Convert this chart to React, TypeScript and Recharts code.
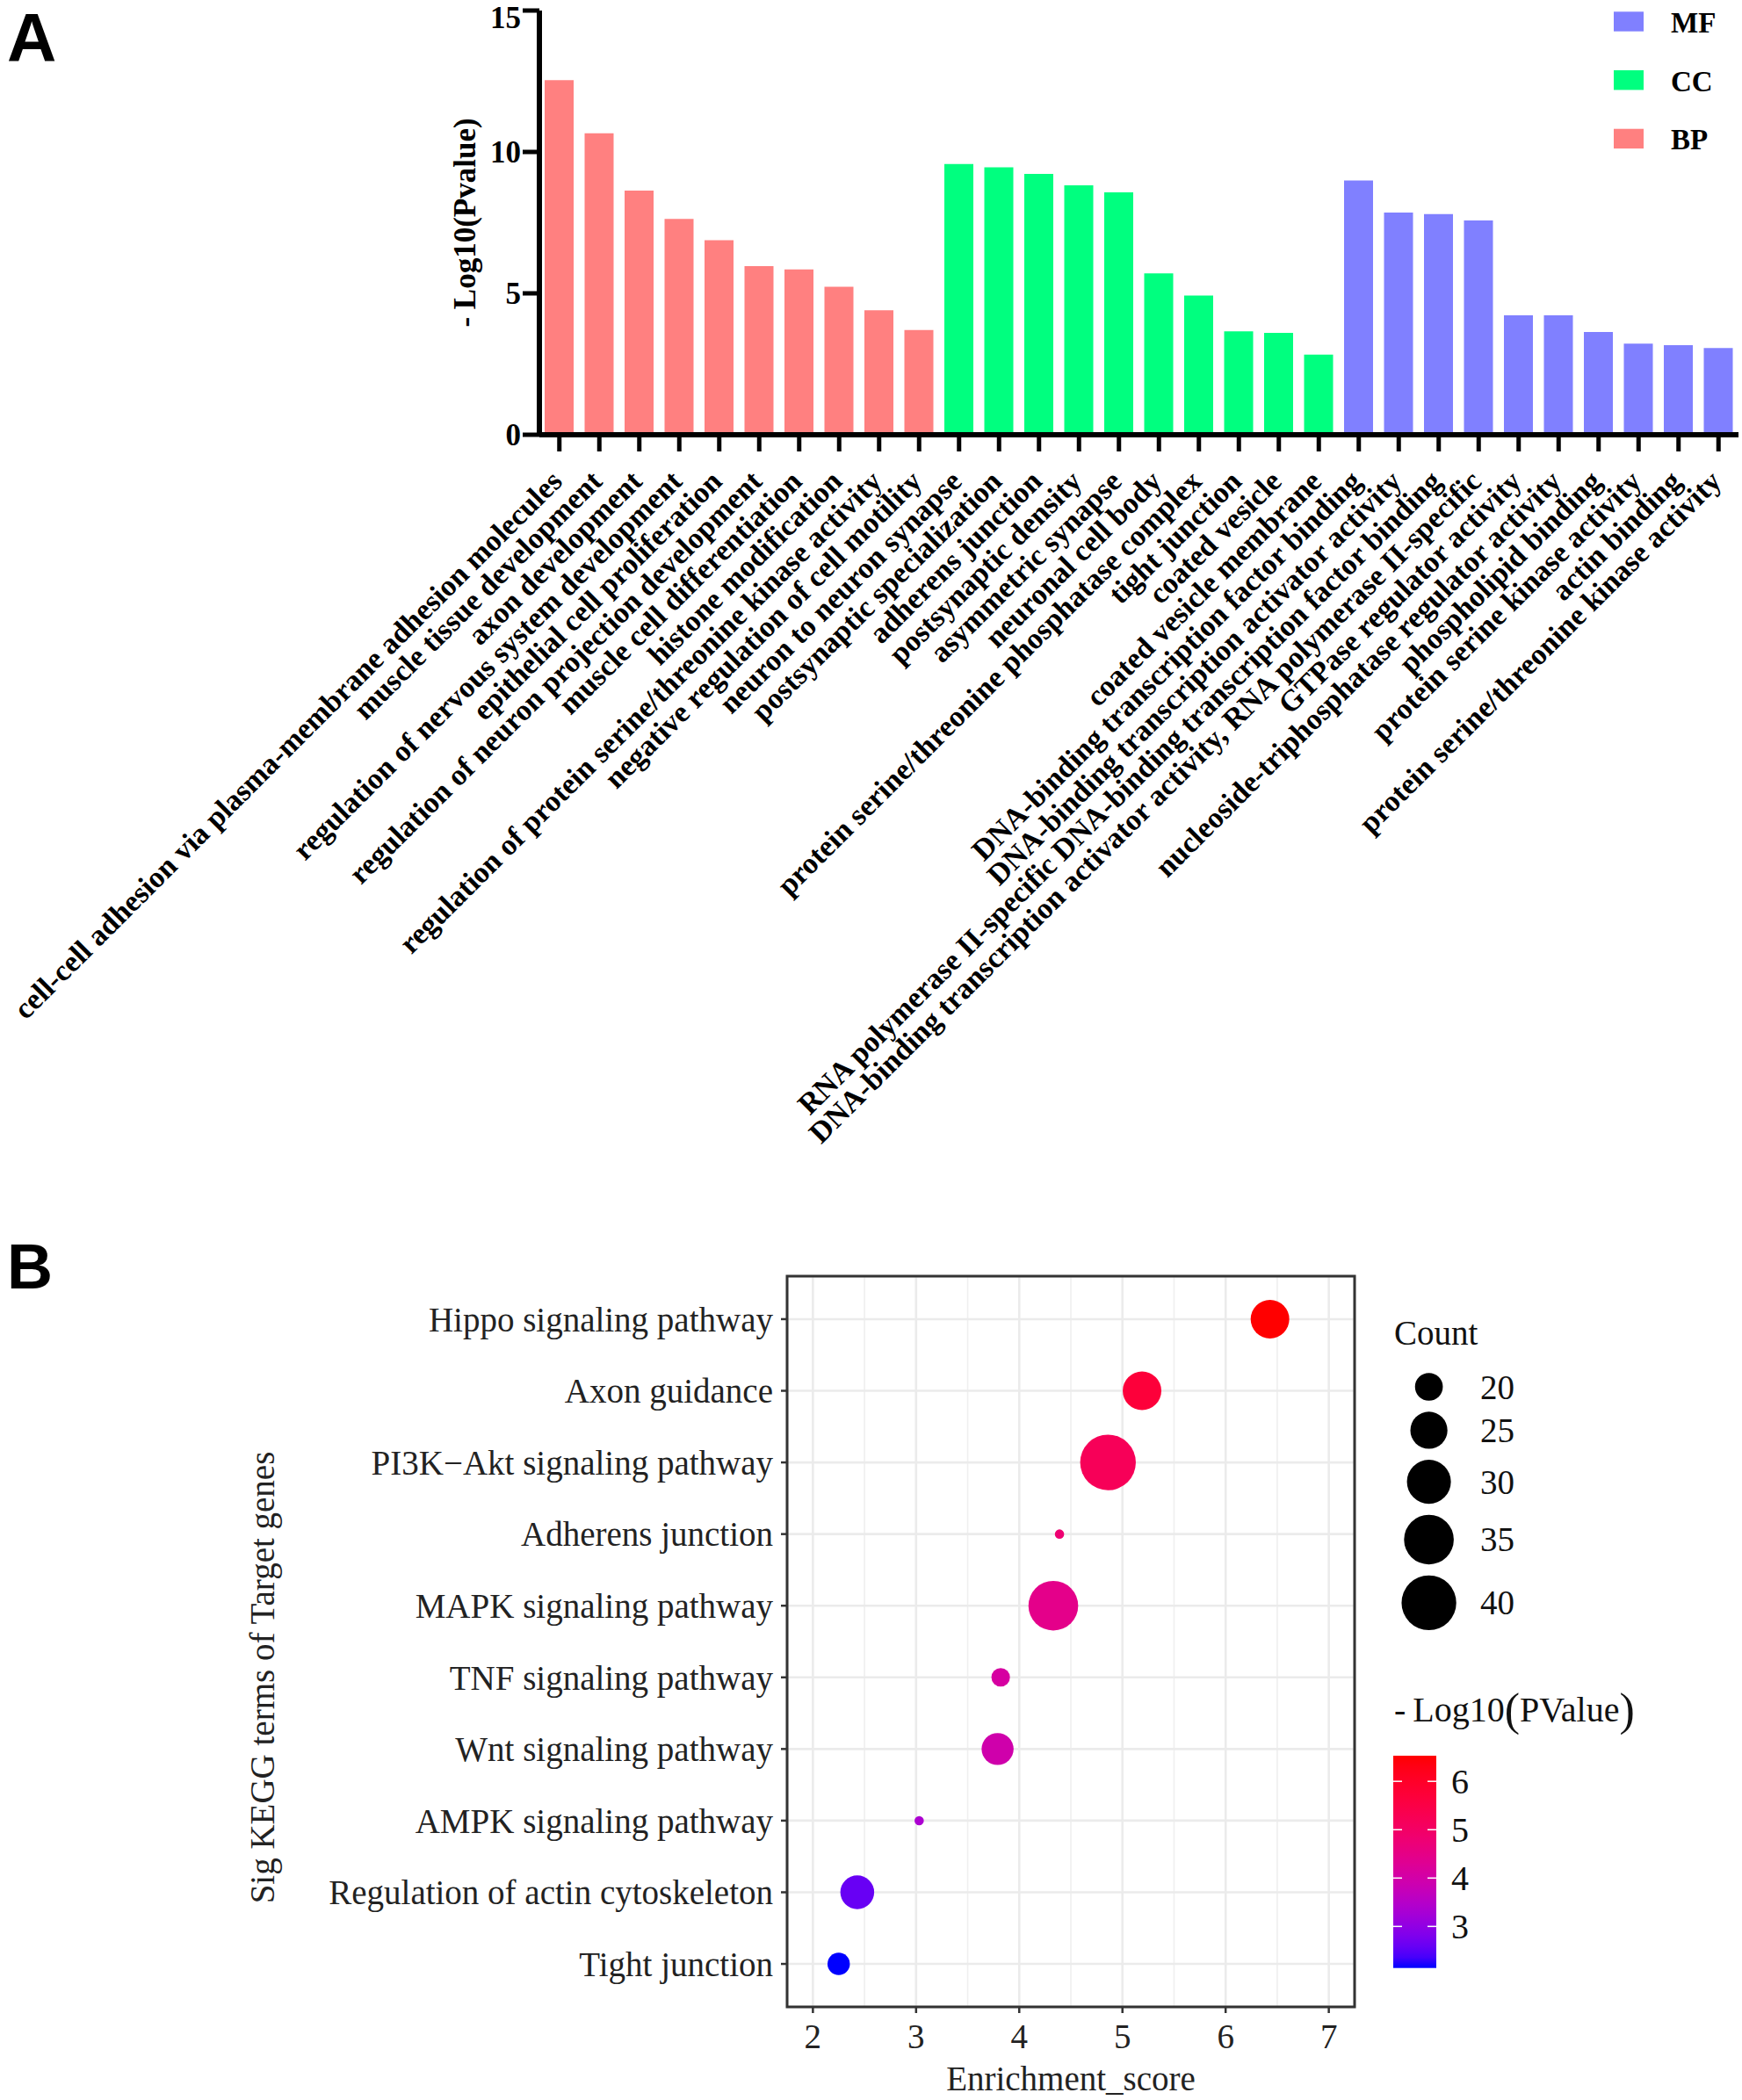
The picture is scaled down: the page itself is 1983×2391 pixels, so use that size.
import React from "react";
import {
  BarChart,
  Bar,
  XAxis,
  YAxis,
  Cell,
  Label,
  ScatterChart,
  Scatter,
  CartesianGrid,
  ReferenceArea,
} from "recharts";

const SERIF = '"Liberation Serif", "Times New Roman", Times, serif';
const SANS = '"Liberation Sans", Arial, Helvetica, sans-serif';

// ---------- panel A: GO terms ----------
const BP_TERMS = [
  "cell-cell adhesion via plasma-membrane adhesion molecules",
  "muscle tissue development",
  "axon development",
  "regulation of nervous system development",
  "epithelial cell proliferation",
  "regulation of neuron projection development",
  "muscle cell differentiation",
  "histone modification",
  "regulation of protein serine/threonine kinase activity",
  "negative regulation of cell motility",
];
const BP_VALUES = [12.54, 10.66, 8.63, 7.63, 6.88, 5.96, 5.85, 5.23, 4.4, 3.7];

const CC_TERMS = [
  "neuron to neuron synapse",
  "postsynaptic specialization",
  "adherens junction",
  "postsynaptic density",
  "asymmetric synapse",
  "neuronal cell body",
  "protein serine/threonine phosphatase complex",
  "tight junction",
  "coated vesicle",
  "coated vesicle membrane",
];
const CC_VALUES = [9.57, 9.46, 9.22, 8.82, 8.57, 5.71, 4.92, 3.66, 3.6, 2.83];

const MF_TERMS = [
  "DNA-binding transcription factor binding",
  "DNA-binding transcription activator activity",
  "RNA polymerase II-specific DNA-binding transcription factor binding",
  "DNA-binding transcription activator activity, RNA polymerase II-specific",
  "GTPase regulator activity",
  "nucleoside-triphosphatase regulator activity",
  "phospholipid binding",
  "protein serine kinase activity",
  "actin binding",
  "protein serine/threonine kinase activity",
];
const MF_VALUES = [8.99, 7.86, 7.8, 7.58, 4.22, 4.22, 3.63, 3.22, 3.17, 3.07];

const GO_Y_TICKS = [0, 5, 10, 15];
const GO_COLORS: Record<string, string> = { BP: "#FF8080", CC: "#00FF7F", MF: "#8080FF" };
const GO_LEGEND = ["MF", "CC", "BP"];

const goData = [
  ...BP_TERMS.map((term, i) => ({ term, value: BP_VALUES[i], group: "BP" })),
  ...CC_TERMS.map((term, i) => ({ term, value: CC_VALUES[i], group: "CC" })),
  ...MF_TERMS.map((term, i) => ({ term, value: MF_VALUES[i], group: "MF" })),
];

// ---------- panel B: KEGG bubbles ----------
const KEGG_TERMS = [
  "Hippo signaling pathway",
  "Axon guidance",
  "PI3K\u2212Akt signaling pathway",
  "Adherens junction",
  "MAPK signaling pathway",
  "TNF signaling pathway",
  "Wnt signaling pathway",
  "AMPK signaling pathway",
  "Regulation of actin cytoskeleton",
  "Tight junction",
];
const KEGG_SCORE = [6.43, 5.19, 4.86, 4.39, 4.33, 3.82, 3.79, 3.03, 2.43, 2.25];
const KEGG_COUNT = [26, 26, 41, 16, 35, 17, 22, 16, 23, 18];
const KEGG_LOGP = [6.53, 5.7, 5.2, 4.8, 4.45, 4.1, 3.95, 3.35, 2.6, 2.14];

const SCORE_TICKS = [2, 3, 4, 5, 6, 7];
const SCORE_MINOR = [2.5, 3.5, 4.5, 5.5, 6.5];
const TERM_TICKS = [1, 2, 3, 4, 5, 6, 7, 8, 9, 10];
const COUNT_BREAKS = [20, 25, 30, 35, 40];
const LOGP_BREAKS = [3, 4, 5, 6];

const keggData = KEGG_TERMS.map((term, i) => ({
  term,
  y: KEGG_TERMS.length - i,
  score: KEGG_SCORE[i],
  count: KEGG_COUNT[i],
  logp: KEGG_LOGP[i],
}));

// size scale like ggplot scale_size (range 1..6, area based)
const C_MIN = Math.min(...KEGG_COUNT);
const C_MAX = Math.max(...KEGG_COUNT);
const R_MIN = 5.28;
function radius(c: number) {
  const t = Math.max(0, (c - C_MIN) / (C_MAX - C_MIN));
  return R_MIN * (1 + 5 * Math.sqrt(t));
}

// colour scale blue -> red, interpolated in Lab
const P_MIN = Math.min(...KEGG_LOGP);
const P_MAX = Math.max(...KEGG_LOGP);

function toLab(hex: string) {
  const n = parseInt(hex.slice(1), 16);
  const lin = (c: number) => {
    c /= 255;
    return c <= 0.04045 ? c / 12.92 : Math.pow((c + 0.055) / 1.055, 2.4);
  };
  const R = lin((n >> 16) & 255), G = lin((n >> 8) & 255), B = lin(n & 255);
  const X = (0.4124 * R + 0.3576 * G + 0.1805 * B) / 0.95047;
  const Y = 0.2126 * R + 0.7152 * G + 0.0722 * B;
  const Z = (0.0193 * R + 0.1192 * G + 0.9505 * B) / 1.08883;
  const f = (t: number) => (t > 0.008856 ? Math.cbrt(t) : 7.787 * t + 16 / 116);
  const fx = f(X), fy = f(Y), fz = f(Z);
  return [116 * fy - 16, 500 * (fx - fy), 200 * (fy - fz)];
}

function labToHex([L, a, b]: number[]) {
  const fy = (L + 16) / 116, fx = fy + a / 500, fz = fy - b / 200;
  const inv = (t: number) => (t * t * t > 0.008856 ? t * t * t : (t - 16 / 116) / 7.787);
  const X = inv(fx) * 0.95047, Y = inv(fy), Z = inv(fz) * 1.08883;
  const lr = 3.2406 * X - 1.5372 * Y - 0.4986 * Z;
  const lg = -0.9689 * X + 1.8758 * Y + 0.0415 * Z;
  const lb = 0.0557 * X - 0.204 * Y + 1.057 * Z;
  const g = (c: number) => {
    const v = c <= 0.0031308 ? 12.92 * c : 1.055 * Math.pow(Math.max(c, 0), 1 / 2.4) - 0.055;
    return Math.round(Math.min(1, Math.max(0, v)) * 255);
  };
  return "#" + [g(lr), g(lg), g(lb)].map((v) => v.toString(16).padStart(2, "0")).join("");
}

const LOW = toLab("#0000FF");
const HIGH = toLab("#FF0000");
function pColor(v: number) {
  const t = Math.min(1, Math.max(0, (v - P_MIN) / (P_MAX - P_MIN)));
  // the printed figure is a bit more saturated in the middle than plain Lab
  const boost = 1 + 0.25 * 4 * t * (1 - t);
  const lab = LOW.map((l, i) => l + (HIGH[i] - l) * t);
  return labToHex([lab[0], lab[1] * boost, lab[2] * boost]);
}

function GoTick({ x, y, payload }: any) {
  return (
    <g transform={`translate(${x + 5},${y + 36})`}>
      <text
        transform="rotate(-45)"
        textAnchor="end"
        fontFamily={SERIF}
        fontWeight={700}
        fontSize={34}
        fill="#000"
      >
        {payload.value}
      </text>
    </g>
  );
}

function Bubble(p: any) {
  if (p.cx == null || p.cy == null) return null;
  return <circle cx={p.cx} cy={p.cy} r={radius(p.payload.count)} fill={pColor(p.payload.logp)} />;
}

// count legend layout
const countRows = (() => {
  let c = 1579;
  return COUNT_BREAKS.map((v, i) => {
    if (i > 0) c += radius(COUNT_BREAKS[i - 1]) + radius(v) + 12.5;
    return { v, r: radius(v), cy: c };
  });
})();

const BAR_TOP = 1999;
const BAR_BOTTOM = 2240.7;
const barY = (v: number) => BAR_BOTTOM - ((v - P_MIN) / (P_MAX - P_MIN)) * (BAR_BOTTOM - BAR_TOP);

export default function App() {
  return (
    <div style={{ position: "relative", width: 1983, height: 2391, background: "#fff", overflow: "hidden" }}>
      <style>{"body{margin:0}"}</style>

      <div style={{ position: "absolute", left: 0, top: 0 }}>
        <BarChart width={1983} height={1400} data={goData} margin={{ top: 12, right: 4, bottom: 0, left: 0 }}>
          <XAxis
            dataKey="term"
            type="category"
            interval={0}
            height={905}
            tickSize={19}
            tickMargin={0}
            tick={(props: any) => <GoTick {...props} />}
            axisLine={{ stroke: "#000", strokeWidth: 6 }}
            tickLine={{ stroke: "#000", strokeWidth: 5 }}
          />
          <YAxis
            type="number"
            domain={[0, 15]}
            ticks={GO_Y_TICKS}
            width={614}
            tickSize={19}
            tickMargin={2}
            allowDataOverflow
            axisLine={{ stroke: "#000", strokeWidth: 6 }}
            tickLine={{ stroke: "#000", strokeWidth: 5 }}
            tick={{ fontFamily: SERIF, fontWeight: 700, fontSize: 35, fill: "#000" }}
          >
            <Label
              content={(props: any) => {
                const vb = props.viewBox || { x: 0, y: 12, height: 483 };
                const cx = vb.x + 529;
                const cy = vb.y + vb.height / 2;
                return (
                  <text
                    x={cx}
                    y={cy}
                    transform={`rotate(-90, ${cx}, ${cy})`}
                    textAnchor="middle"
                    dominantBaseline="central"
                    fontFamily={SERIF}
                    fontWeight={700}
                    fontSize={35}
                    fill="#000"
                  >
                    - Log10(Pvalue)
                  </text>
                );
              }}
            />
          </YAxis>
          <Bar dataKey="value" barSize={33} isAnimationActive={false}>
            {goData.map((d, i) => (
              <Cell key={i} fill={GO_COLORS[d.group]} />
            ))}
          </Bar>
        </BarChart>
      </div>

      <div style={{ position: "absolute", left: 0, top: 1400 }}>
        <ScatterChart width={1983} height={991} margin={{ top: 53, right: 441, bottom: 0, left: 0 }}>
          <CartesianGrid horizontal={false} verticalValues={SCORE_MINOR} stroke="#EFEFEF" strokeWidth={1.6} />
          <CartesianGrid stroke="#EBEBEB" strokeWidth={2.6} />
          <XAxis
            type="number"
            dataKey="score"
            domain={[1.75, 7.25]}
            ticks={SCORE_TICKS}
            allowDataOverflow
            height={106}
            tickSize={7}
            tickMargin={12}
            axisLine={false}
            tickLine={{ stroke: "#333", strokeWidth: 2.5 }}
            tick={{ fontFamily: SERIF, fontSize: 39, fill: "#222" }}
          >
            <Label
              content={(props: any) => {
                const vb = props.viewBox || { x: 896, y: 885, width: 646 };
                return (
                  <text
                    x={vb.x + vb.width / 2}
                    y={vb.y + 95}
                    textAnchor="middle"
                    fontFamily={SERIF}
                    fontSize={39}
                    fill="#222"
                  >
                    Enrichment_score
                  </text>
                );
              }}
            />
          </XAxis>
          <YAxis
            type="number"
            dataKey="y"
            domain={[0.4, 10.6]}
            ticks={TERM_TICKS}
            allowDataOverflow
            width={896}
            tickSize={7}
            tickMargin={9}
            axisLine={false}
            tickLine={{ stroke: "#333", strokeWidth: 2.5 }}
            tick={{ fontFamily: SERIF, fontSize: 39, fill: "#222" }}
            tickFormatter={(v: number) => KEGG_TERMS[KEGG_TERMS.length - v]}
          >
            <Label
              content={() => (
                <text
                  x={298}
                  y={510}
                  transform="rotate(-90, 298, 510)"
                  textAnchor="middle"
                  dominantBaseline="central"
                  fontFamily={SERIF}
                  fontSize={39}
                  fill="#222"
                >
                  Sig KEGG terms of Target genes
                </text>
              )}
            />
          </YAxis>
          <Scatter data={keggData} shape={Bubble} isAnimationActive={false} />
          <ReferenceArea
            x1={1.75}
            x2={7.25}
            y1={0.4}
            y2={10.6}
            fill="none"
            stroke="#333"
            strokeWidth={3}
            ifOverflow="visible"
          />
        </ScatterChart>
      </div>

      <svg
        width={1983}
        height={2391}
        style={{ position: "absolute", left: 0, top: 0, pointerEvents: "none" }}
      >
        <text x={8} y={70} fontFamily={SANS} fontWeight={900} fontSize={78} fill="#000">
          A
        </text>
        <text x={8} y={1467} fontFamily={SANS} fontWeight={900} fontSize={72} fill="#000">
          B
        </text>

        {GO_LEGEND.map((g, i) => (
          <g key={g}>
            <rect x={1837} y={13.3 + i * 66.7} width={34} height={22.4} fill={GO_COLORS[g]} />
            <text
              x={1902}
              y={36.8 + i * 66.7}
              fontFamily={SERIF}
              fontWeight={700}
              fontSize={33}
              fill="#000"
            >
              {g}
            </text>
          </g>
        ))}

        <text x={1587} y={1531} fontFamily={SERIF} fontSize={39} fill="#111">
          Count
        </text>
        {countRows.map((row) => (
          <g key={row.v}>
            <circle cx={1626.6} cy={row.cy} r={row.r} fill="#000" />
            <text
              x={1685}
              y={row.cy}
              dominantBaseline="central"
              fontFamily={SERIF}
              fontSize={39}
              fill="#111"
            >
              {row.v}
            </text>
          </g>
        ))}

        <text x={1587} y={1960} fontFamily={SERIF} fontSize={40} fill="#111">
          -<tspan dx={8}>Log10</tspan>
          <tspan fontSize={52} dy={4}>(</tspan>
          <tspan dy={-4}>PValue</tspan>
          <tspan fontSize={52} dy={4}>)</tspan>
        </text>
        <defs>
          <linearGradient id="pgrad" x1="0" y1="1" x2="0" y2="0">
            {Array.from({ length: 21 }, (_, k) => k / 20).map((t) => (
              <stop key={t} offset={t} stopColor={pColor(P_MIN + t * (P_MAX - P_MIN))} />
            ))}
          </linearGradient>
        </defs>
        <rect x={1586} y={BAR_TOP} width={49} height={BAR_BOTTOM - BAR_TOP} fill="url(#pgrad)" />
        {LOGP_BREAKS.map((v) => (
          <g key={v}>
            <line x1={1586} x2={1596} y1={barY(v)} y2={barY(v)} stroke="#fff" strokeWidth={1.5} />
            <line x1={1625} x2={1635} y1={barY(v)} y2={barY(v)} stroke="#fff" strokeWidth={1.5} />
            <text
              x={1652}
              y={barY(v)}
              dominantBaseline="central"
              fontFamily={SERIF}
              fontSize={40}
              fill="#111"
            >
              {v}
            </text>
          </g>
        ))}
      </svg>
    </div>
  );
}
